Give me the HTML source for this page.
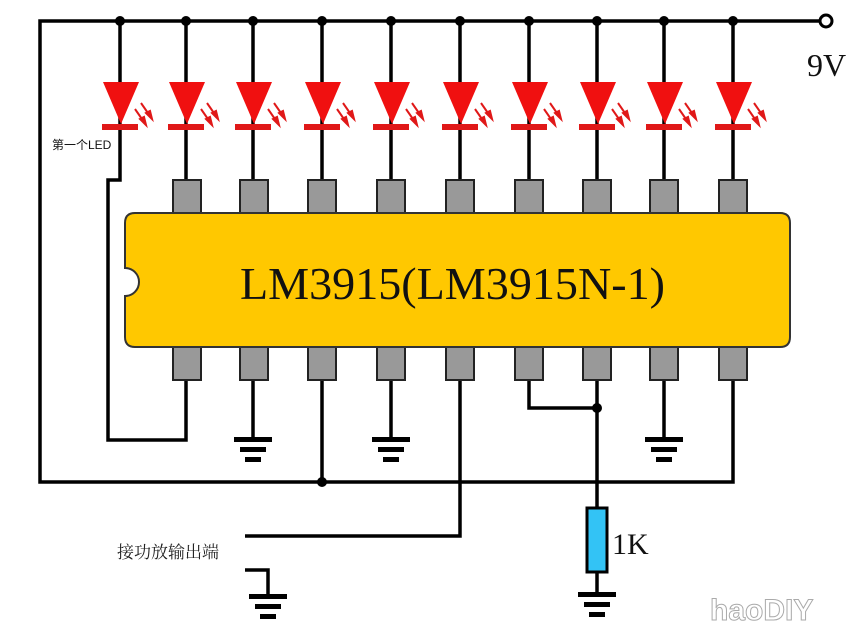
<!DOCTYPE html><html><head><style>body{margin:0;background:#fff}svg{display:block}</style></head><body>
<svg width="864" height="632" xmlns="http://www.w3.org/2000/svg">
<defs>
<g id="led">
<polygon points="-17,82 19,82 1,124" fill="#f01010"/>
<rect x="-18" y="124" width="36" height="6" fill="#e01818"/>
<g stroke="#e01818" stroke-width="2" fill="#e01818">
<line x1="21" y1="103" x2="30" y2="116"/><polygon points="32,119 26,113 30,111"/>
<line x1="15" y1="109" x2="24" y2="122"/><polygon points="26,125 20,119 24,117"/>
</g>
</g>
<g id="gnd" fill="#000"><rect x="-19" y="0" width="38" height="5"/><rect x="-13" y="10" width="26" height="5"/><rect x="-8" y="20" width="16" height="5"/></g>
</defs>
<g stroke="#000" stroke-width="3.5" fill="none">
<polyline points="820,21 40,21 40,482 733,482 733,380"/>
<polyline points="120,21 120,180 108,180 108,440 186,440 186,380"/>
<line x1="186" y1="21" x2="186" y2="180"/><line x1="253" y1="21" x2="253" y2="180"/><line x1="322" y1="21" x2="322" y2="180"/><line x1="391" y1="21" x2="391" y2="180"/><line x1="460" y1="21" x2="460" y2="180"/><line x1="529" y1="21" x2="529" y2="180"/><line x1="597" y1="21" x2="597" y2="180"/><line x1="664" y1="21" x2="664" y2="180"/><line x1="733" y1="21" x2="733" y2="180"/>
<line x1="253" y1="380" x2="253" y2="437"/><line x1="391" y1="380" x2="391" y2="437"/><line x1="664" y1="380" x2="664" y2="437"/>
<line x1="322" y1="380" x2="322" y2="482"/>
<polyline points="529,380 529,408 597,408"/>
<line x1="597" y1="380" x2="597" y2="508"/><line x1="597" y1="572" x2="597" y2="595"/>
<polyline points="460,380 460,536 245,536"/>
<polyline points="245,570 268,570 268,596"/>
</g>
<g fill="#000"><circle cx="120" cy="21" r="5"/><circle cx="186" cy="21" r="5"/><circle cx="253" cy="21" r="5"/><circle cx="322" cy="21" r="5"/><circle cx="391" cy="21" r="5"/><circle cx="460" cy="21" r="5"/><circle cx="529" cy="21" r="5"/><circle cx="597" cy="21" r="5"/><circle cx="664" cy="21" r="5"/><circle cx="733" cy="21" r="5"/><circle cx="322" cy="482" r="5"/><circle cx="597" cy="408" r="5"/></g>
<circle cx="826" cy="21" r="6" fill="#fff" stroke="#000" stroke-width="3"/>
<use href="#led" x="120"/><use href="#led" x="186"/><use href="#led" x="253"/><use href="#led" x="322"/><use href="#led" x="391"/><use href="#led" x="460"/><use href="#led" x="529"/><use href="#led" x="597"/><use href="#led" x="664"/><use href="#led" x="733"/>
<g fill="#999" stroke="#222" stroke-width="2">
<rect x="173" y="180" width="28" height="36"/><rect x="240" y="180" width="28" height="36"/><rect x="308" y="180" width="28" height="36"/><rect x="377" y="180" width="28" height="36"/><rect x="446" y="180" width="28" height="36"/><rect x="515" y="180" width="28" height="36"/><rect x="583" y="180" width="28" height="36"/><rect x="650" y="180" width="28" height="36"/><rect x="719" y="180" width="28" height="36"/>
<rect x="173" y="345" width="28" height="35"/><rect x="240" y="345" width="28" height="35"/><rect x="308" y="345" width="28" height="35"/><rect x="377" y="345" width="28" height="35"/><rect x="446" y="345" width="28" height="35"/><rect x="515" y="345" width="28" height="35"/><rect x="583" y="345" width="28" height="35"/><rect x="650" y="345" width="28" height="35"/><rect x="719" y="345" width="28" height="35"/>
</g>
<path d="M135,213 H780 Q790,213 790,223 V337 Q790,347 780,347 H135 Q125,347 125,337 V296 A14,14 0 0 0 125,268 V223 Q125,213 135,213 Z" fill="#ffc800" stroke="#333" stroke-width="2"/>
<text x="240" y="299" font-family="Liberation Serif, serif" font-size="46" textLength="425" lengthAdjust="spacingAndGlyphs" fill="#111">LM3915(LM3915N-1)</text>
<text x="807" y="76" font-family="Liberation Serif, serif" font-size="32" fill="#111">9V</text>
<text x="52" y="149" font-family="Liberation Sans, 'Noto Sans CJK SC', sans-serif" font-size="12" fill="#111">第一个LED</text>
<text x="117" y="558" font-family="Liberation Sans, 'Noto Serif CJK SC', serif" font-size="17" fill="#222">接功放输出端</text>
<rect x="587" y="508" width="20" height="64" fill="#33c3f5" stroke="#000" stroke-width="3"/>
<text x="612" y="554" font-family="Liberation Serif, serif" font-size="30" fill="#111">1K</text>
<use href="#gnd" x="253" y="437"/><use href="#gnd" x="391" y="437"/><use href="#gnd" x="664" y="437"/><use href="#gnd" x="597" y="592"/><use href="#gnd" x="268" y="594"/>
<text x="710" y="620" font-family="Liberation Sans, sans-serif" font-size="30" font-weight="bold" fill="#fff" stroke="#aaa" stroke-width="1">haoDIY</text>
</svg></body></html>
